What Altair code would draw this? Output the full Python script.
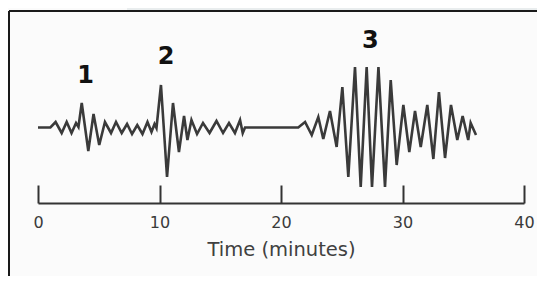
import altair as alt
import pandas as pd

# Seismogram trace: time (minutes) and relative amplitude
time_min = [0.0, 1.02, 1.45, 1.95, 2.36, 2.76, 3.13, 3.33, 3.60, 4.14, 4.57, 5.04, 5.51,
            6.01, 6.42, 6.89, 7.33, 7.74, 8.17, 8.60, 9.01, 9.34, 9.59, 9.75,
            10.12, 10.62, 11.11, 11.60, 12.02, 12.30, 12.63, 13.09, 13.58, 14.12,
            14.69, 15.23, 15.72, 16.21, 16.63, 16.85, 17.04, 21.42,
            21.98, 22.53, 23.07, 23.48, 24.03, 24.58, 25.05, 25.54, 26.09, 26.56,
            27.05, 27.49, 28.02, 28.56, 29.03, 29.52, 30.07, 30.56, 31.03, 31.50,
            32.04, 32.54, 33.00, 33.50, 33.99, 34.51, 34.95, 35.41, 35.61, 36.05]
amplitude = [0, 0, 5.5, -5.5, 5.5, -5.5, 4.5, 0.5, 24.5, -23.5, 13.5, -17.5, 5.5,
             -5.5, 5.5, -5.5, 3.5, -6.5, 2.5, -6.5, 5.5, -4.5, 3.5, -0.5,
             42.5, -49.5, 24.5, -24.5, 11.5, -12.5, 7.5, -6.5, 4.5, -5.5,
             6.5, -5.5, 4.5, -5.5, 7.5, -5.5, 0, 0,
             5.5, -7.5, 10.5, -11.5, 16.5, -19.5, 40.5, -49.5, 60.5, -59.5,
             60.5, -59.5, 60.5, -59.5, 47.5, -37.5, 22.5, -24.5, 16.5, -19.5,
             22.5, -31.5, 35.5, -30.5, 22.5, -12.5, 11.5, -12.5, 4.5, -7.5]

# Wave arrival labels
label_text = ["1", "2", "3"]
label_time = [3.91, 10.55, 27.35]
label_amp = [51.5, 70.5, 86.5]

tick_values = [0, 10, 20, 30, 40]

trace = pd.DataFrame({"t": time_min, "a": amplitude})
labels = pd.DataFrame({"t": label_time, "a": label_amp, "txt": label_text})
one = pd.DataFrame({"k": [0]})

xscale = alt.Scale(domain=[0, 40], nice=False, zero=False)
yscale = alt.Scale(domain=[-75.5, 109.5], nice=False, zero=False)

xaxis = alt.Axis(
    orient="top", offset=-185, values=tick_values, grid=False,
    tickSize=18, tickWidth=2, tickColor="#333333",
    domainWidth=2, domainColor="#333333",
    labelPadding=-42, labelBaseline="alphabetic", labelFlush=False,
    labelFont="DejaVu Sans", labelFontSize=16, labelColor="#3a3a3a",
    title="Time (minutes)", titleY=52, titleBaseline="alphabetic",
    titleFont="DejaVu Sans", titleFontSize=19.5, titleFontWeight="normal",
    titleColor="#404040",
)

line = alt.Chart(trace).mark_line(color="#3a3a3a", strokeWidth=2.6).encode(
    x=alt.X("t:Q", scale=xscale, axis=xaxis),
    y=alt.Y("a:Q", scale=yscale, axis=None),
    order="t:Q",
)

text = alt.Chart(labels).mark_text(
    font="DejaVu Sans", fontWeight="bold", fontSize=24, color="#111111",
    align="center", baseline="middle",
).encode(
    x=alt.X("t:Q", scale=xscale),
    y=alt.Y("a:Q", scale=yscale),
    text="txt:N",
)

# decorative page elements: light band above the frame, and the frame itself
band = alt.Chart(one).mark_rect(color="#e9edee").encode(
    x=alt.value(89), x2=alt.value(520), y=alt.value(-12), y2=alt.value(-8)
)
frame_top = alt.Chart(one).mark_rule(color="#1a1a1a", strokeWidth=2).encode(
    x=alt.value(-29), x2=alt.value(520), y=alt.value(-7)
)
frame_left = alt.Chart(one).mark_rule(color="#1a1a1a", strokeWidth=2).encode(
    x=alt.value(-29), y=alt.value(-7), y2=alt.value(270)
)

chart = alt.layer(band, line, text, frame_top, frame_left).properties(
    width=486, height=185,
    autosize=alt.AutoSizeParams(type="none"),
    padding={"left": 30, "top": 10, "right": 13, "bottom": 73},
    background="#fbfbfb",
).configure_view(stroke=None)

chart.save("out.html", embed_options={"renderer": "svg", "actions": False})
